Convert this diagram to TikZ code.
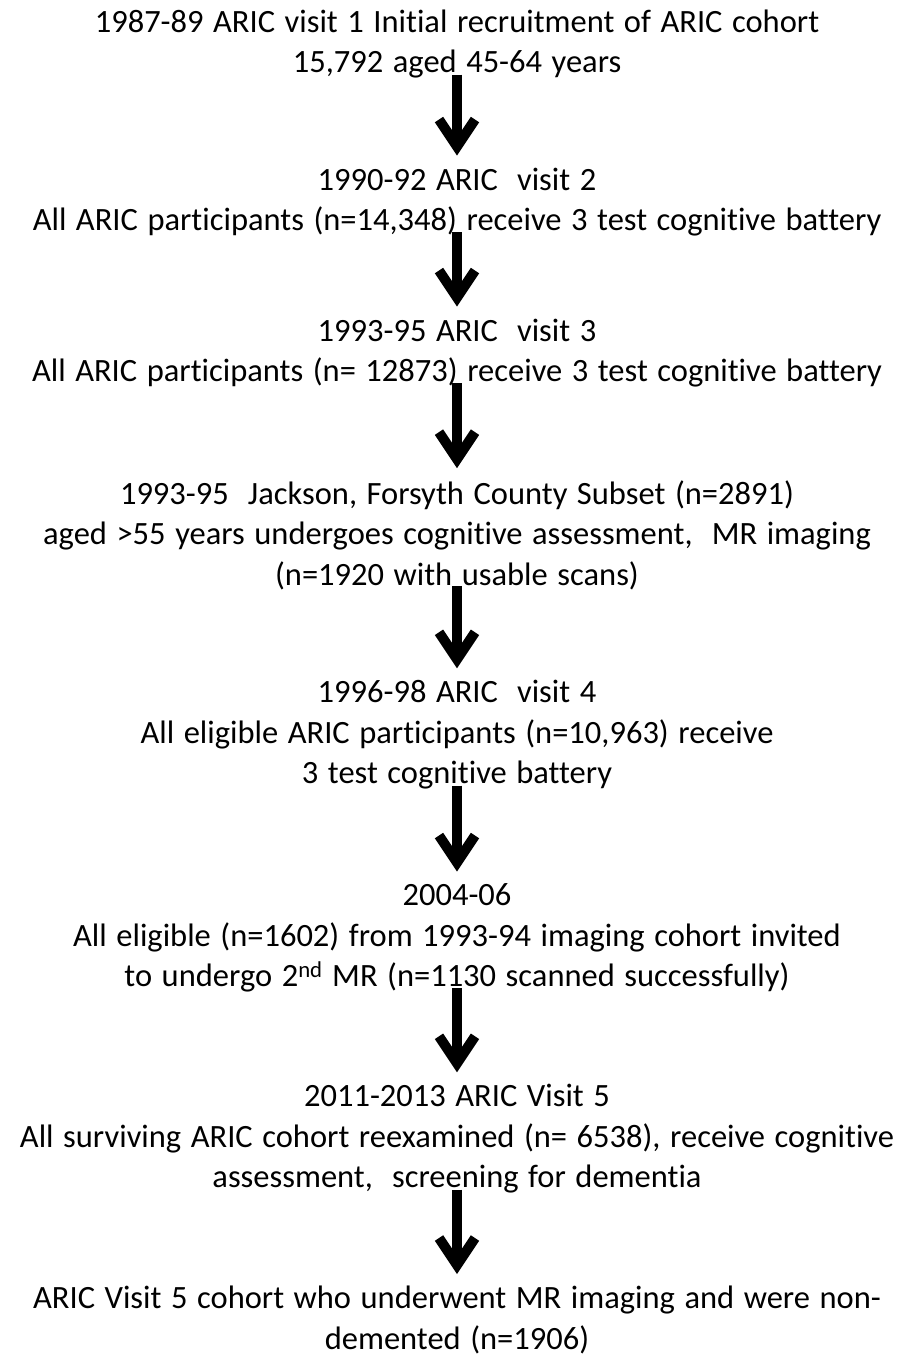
\documentclass[tikz,border=0pt]{standalone}
\usepackage{fontspec}
\setmainfont{Carlito}[Ligatures=NoCommon, WordSpace={1.3,0,0}]
\usetikzlibrary{arrows.meta}
\usetikzlibrary{positioning}

\begin{document}
\begin{tikzpicture}[
    x=1pt, y=-1pt,
    stage/.style={align=center, inner sep=0pt, font=\fontsize{32.5}{40.5}\selectfont},
    flow/.style={draw, line width=10pt, -{Straight Barb[length=27pt, width=36pt]}}
  ]
    \useasboundingbox (0,0) rectangle (905,1355);
    % the eight stages
    \node[stage] (v1) at (457,44) {1987-89 ARIC visit 1 Initial recruitment of ARIC cohort\\ 15,792 aged 45-64 years};
    \node[stage] (v2) at (457,202) {1990-92 ARIC\ \ visit 2\\ All ARIC participants (n=14,348) receive 3 test cognitive battery};
    \node[stage] (v3) at (457,353) {1993-95 ARIC\ \ visit 3\\ All ARIC participants (n= 12873) receive 3 test cognitive battery};
    \node[stage] (mri1) at (457,535) {1993-95\ \ Jackson, Forsyth County Subset (n=2891)\\ aged >55 years undergoes cognitive assessment,\ \ MR imaging\\ (n=1920 with usable scans)};
    \node[stage] (v4) at (457,735) {1996-98 ARIC\ \ visit 4\\ All eligible ARIC participants (n=10,963) receive\\ 3 test cognitive battery};
    \node[stage] (mri2) at (457,938) {2004-06\\ All eligible (n=1602) from 1993-94 imaging cohort invited\\ to undergo 2\textsuperscript{nd} MR (n=1130 scanned successfully)};
    \node[stage] (v5) at (457,1139) {2011-2013 ARIC Visit 5\\ All surviving ARIC cohort reexamined (n= 6538), receive cognitive\\ assessment,\ \ screening for dementia};
    \node[stage] (final) at (457,1320) {ARIC Visit 5 cohort who underwent MR imaging and were non-\\ demented (n=1906)};
    % arrows between stages
    \draw[flow] ([yshift=4pt]v1.south) -- ([yshift=12pt]v2.north);
    \draw[flow] ([yshift=4pt]v2.south) -- ([yshift=12pt]v3.north);
    \draw[flow] ([yshift=4pt]v3.south) -- ([yshift=12pt]mri1.north);
    \draw[flow] ([yshift=4pt]mri1.south) -- ([yshift=12pt]v4.north);
    \draw[flow] ([yshift=4pt]v4.south) -- ([yshift=12pt]mri2.north);
    \draw[flow] ([yshift=4pt]mri2.south) -- ([yshift=12pt]v5.north);
    \draw[flow] ([yshift=4pt]v5.south) -- ([yshift=12pt]final.north);
\end{tikzpicture}
\end{document}
